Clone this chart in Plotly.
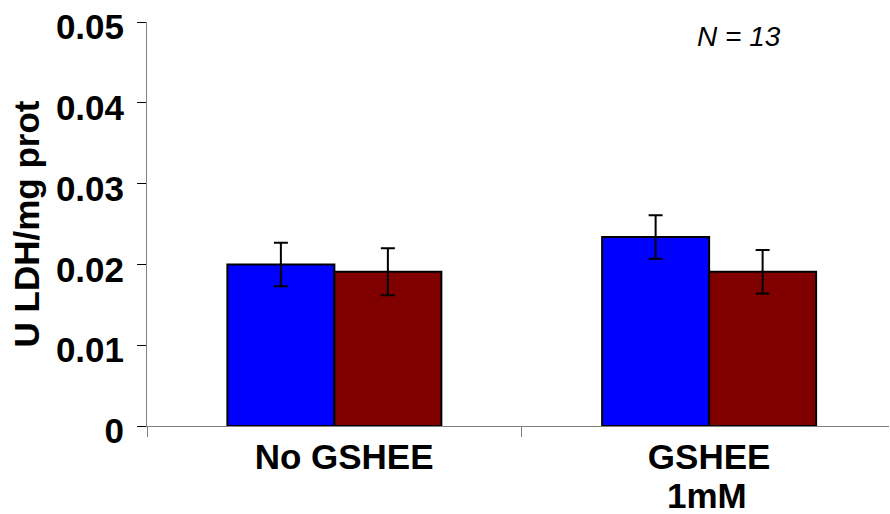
import plotly.graph_objects as go

# Group labels on the category axis (second line of a label drawn separately)
groups = ["\u00a0\u00a0No GSHEE", "GSHEE"]
group_sublabels = ["", "1mM"]

# LDH activity (U/mg protein), mean and SEM per group
blue_vals = [0.0200, 0.0234]
blue_err = [0.0027, 0.0027]
red_vals = [0.0191, 0.0191]
red_err = [0.0029, 0.0027]

# Value axis ticks
y_ticks = [0, 0.01, 0.02, 0.03, 0.04, 0.05]
y_tick_text = ["0", "0.01", "0.02", "0.03", "0.04", "0.05"]

FONT = "Liberation Sans, Arial, Helvetica, sans-serif"

fig = go.Figure()
fig.add_trace(go.Bar(
    x=groups, y=blue_vals,
    marker=dict(color="#0000FF", line=dict(color="black", width=2)),
    error_y=dict(type="data", array=blue_err, color="black", thickness=2, width=7),
    showlegend=False,
))
fig.add_trace(go.Bar(
    x=groups, y=red_vals,
    marker=dict(color="#800000", line=dict(color="black", width=2)),
    error_y=dict(type="data", array=red_err, color="black", thickness=2, width=7),
    showlegend=False,
))

annotations = [dict(
    text="N = 13", x=0.798, y=0.9636, xref="paper", yref="paper",
    xanchor="center", yanchor="middle", showarrow=False,
    font=dict(family=FONT, size=28, style="italic", color="black"),
)]
for g, sub in zip(groups, group_sublabels):
    if sub:
        annotations.append(dict(
            text=sub, x=g, xref="x", y=-0.172, yref="paper",
            xanchor="center", yanchor="middle", showarrow=False, xshift=-2,
            font=dict(family=FONT, size=35, weight="bold", color="black"),
        ))

fig.update_layout(
    width=890, height=514,
    margin=dict(l=147, r=1, t=22, b=88),
    paper_bgcolor="white", plot_bgcolor="white",
    barmode="group", bargap=0.429, bargroupgap=0,
    font=dict(family=FONT, color="black"),
    xaxis=dict(
        type="category",
        range=[-0.5, 1.48],
        automargin=False,
        tickson="boundaries",
        ticks="outside", ticklen=10, tickcolor="#808080", tickwidth=1,
        showline=True, linecolor="#808080", linewidth=1,
        showgrid=False, zeroline=False,
        tickfont=dict(family=FONT, size=35, weight="bold", color="black"),
    ),
    yaxis=dict(
        range=[0, 0.05002],
        automargin=False,
        tickvals=y_ticks, ticktext=y_tick_text,
        ticks="outside", ticklen=9, tickcolor="black", tickwidth=1,
        showline=True, linecolor="#808080", linewidth=1,
        showgrid=False, zeroline=False,
        ticklabeloverflow="allow",
        ticklabelstandoff=6,
        ticklabelshift=5,
        tickfont=dict(family=FONT, size=35, weight="bold", color="black"),
        title=dict(text="U LDH/mg prot", standoff=5,
                   font=dict(family=FONT, size=35, weight="bold", color="black")),
    ),
    annotations=annotations,
)

fig.write_html("out.html")
